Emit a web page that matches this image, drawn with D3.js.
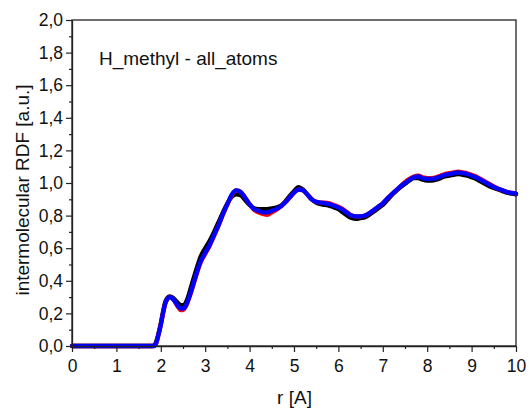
<!DOCTYPE html>
<html><head><meta charset="utf-8">
<script src="https://cdn.jsdelivr.net/npm/d3@7"></script>
<style>body{margin:0;background:#fff;} svg{display:block;} text{font-family:"Liberation Sans",Arial,sans-serif;fill:#111;}</style>
</head><body>
<svg id="c" width="529" height="410"></svg>
<script>
const xTicks = [0,1,2,3,4,5,6,7,8,9,10];
const yTicks = [0,0.2,0.4,0.6,0.8,1.0,1.2,1.4,1.6,1.8,2.0];
const yTickLabels = ["0,0","0,2","0,4","0,6","0,8","1,0","1,2","1,4","1,6","1,8","2,0"];
const title = "H_methyl - all_atoms";
const xLabel = "r [A]";
const yLabel = "intermolecular RDF [a.u.]";

const r = [0,1.8,1.85,1.9,1.95,2.0,2.05,2.1,2.15,2.2,2.25,2.3,2.35,2.4,2.45,2.5,2.55,2.6,2.7,2.8,2.9,3.0,3.1,3.2,3.3,3.4,3.5,3.6,3.7,3.8,3.9,4.0,4.1,4.2,4.3,4.4,4.5,4.6,4.7,4.8,4.9,5.0,5.1,5.2,5.3,5.4,5.5,5.6,5.7,5.8,5.9,6.0,6.1,6.2,6.3,6.4,6.5,6.6,6.7,6.8,6.9,7.0,7.1,7.2,7.3,7.4,7.5,7.6,7.7,7.8,7.9,8.0,8.1,8.2,8.3,8.4,8.5,8.6,8.7,8.8,8.9,9.0,9.1,9.2,9.3,9.4,9.5,9.6,9.7,9.8,9.9,10.0];

const gBlack = [0,0,0.005,0.03,0.08,0.14,0.21,0.27,0.295,0.305,0.3,0.29,0.275,0.26,0.25,0.25,0.26,0.29,0.38,0.47,0.55,0.6,0.645,0.7,0.76,0.82,0.875,0.915,0.93,0.925,0.895,0.865,0.845,0.84,0.84,0.84,0.845,0.85,0.86,0.885,0.92,0.95,0.975,0.96,0.93,0.9,0.88,0.87,0.865,0.86,0.85,0.84,0.82,0.8,0.785,0.78,0.785,0.79,0.805,0.825,0.845,0.865,0.895,0.925,0.95,0.975,0.995,1.015,1.03,1.03,1.02,1.015,1.015,1.02,1.03,1.04,1.045,1.05,1.055,1.05,1.045,1.035,1.025,1.01,0.995,0.98,0.97,0.96,0.95,0.94,0.935,0.93];
const gRed = [0,0,0,0.02,0.07,0.13,0.2,0.26,0.29,0.3,0.295,0.28,0.255,0.235,0.22,0.22,0.235,0.265,0.345,0.435,0.515,0.565,0.615,0.675,0.74,0.805,0.87,0.925,0.955,0.945,0.91,0.87,0.835,0.82,0.81,0.805,0.82,0.835,0.855,0.88,0.91,0.94,0.96,0.955,0.93,0.9,0.885,0.88,0.88,0.875,0.865,0.855,0.84,0.82,0.8,0.795,0.795,0.8,0.815,0.835,0.855,0.875,0.905,0.93,0.955,0.98,1.005,1.025,1.04,1.045,1.035,1.03,1.03,1.035,1.045,1.055,1.06,1.065,1.07,1.065,1.06,1.05,1.04,1.025,1.01,0.995,0.98,0.965,0.955,0.945,0.94,0.935];
const gBlue = [0,0,0,0.02,0.07,0.13,0.2,0.26,0.29,0.3,0.295,0.28,0.26,0.24,0.23,0.23,0.24,0.27,0.35,0.44,0.52,0.57,0.62,0.68,0.74,0.81,0.87,0.93,0.955,0.945,0.91,0.87,0.84,0.83,0.82,0.82,0.83,0.84,0.855,0.88,0.91,0.94,0.96,0.955,0.93,0.9,0.885,0.88,0.875,0.87,0.86,0.85,0.835,0.815,0.8,0.795,0.795,0.8,0.815,0.835,0.855,0.875,0.905,0.93,0.955,0.98,1.0,1.02,1.035,1.04,1.03,1.025,1.025,1.03,1.04,1.05,1.055,1.06,1.065,1.06,1.055,1.045,1.035,1.02,1.005,0.99,0.975,0.965,0.955,0.945,0.94,0.935];

const seriesColors = ["#000000","#ff0000","#0000ff"];
const series = [gBlack, gRed, gBlue];

const m = {l:72, r:516, t:20, b:346};
const svg = d3.select("#c");
const x = d3.scaleLinear().domain([0,10]).range([m.l, m.r]);
const y = d3.scaleLinear().domain([0,2]).range([m.b, m.t]);

// frame
svg.append("rect").attr("x", m.l).attr("y", m.t).attr("width", m.r-m.l).attr("height", m.b-m.t)
  .attr("fill","none").attr("stroke","#222").attr("stroke-width",1.3);

const line = d3.line().x((d,i)=>x(r[i])).y(d=>y(d)).curve(d3.curveMonotoneX);
const plot = svg.append("g");
series.forEach((s,k)=>{
  plot.append("path").datum(s).attr("d", line).attr("fill","none")
    .attr("stroke", seriesColors[k]).attr("stroke-width",4.3).attr("stroke-linejoin","round").attr("stroke-linecap","round");
});

const tickFont = 17.5;
// x axis
const xMinor = d3.range(0, 10.01, 0.5).filter(v => Math.abs(v - Math.round(v)) > 0.01);
const xa = svg.append("g").attr("transform",`translate(0,${m.b})`)
  .call(d3.axisBottom(x).tickValues(xTicks).tickFormat(d3.format("d")).tickSizeInner(6).tickSizeOuter(0).tickPadding(8));
xa.select(".domain").attr("stroke","#222").attr("stroke-width",1.3);
xa.selectAll(".tick line").attr("stroke","#222").attr("stroke-width",1.2);
xa.selectAll(".tick text").attr("font-size",tickFont).attr("font-family","Liberation Sans, Arial, sans-serif").attr("fill","#111");
svg.append("g").attr("transform",`translate(0,${m.b})`)
  .call(d3.axisBottom(x).tickValues(xMinor).tickFormat("").tickSizeInner(3).tickSizeOuter(0))
  .call(g=>g.select(".domain").remove())
  .selectAll(".tick line").attr("stroke","#222").attr("stroke-width",1.2);

// y axis
const yMinor = d3.range(0.1, 2.0, 0.2);
const ya = svg.append("g").attr("transform",`translate(${m.l},0)`)
  .call(d3.axisLeft(y).tickValues(yTicks).tickFormat((d,i)=>yTickLabels[i]).tickSizeInner(6).tickSizeOuter(0).tickPadding(3));
ya.select(".domain").attr("stroke","#222").attr("stroke-width",1.3);
ya.selectAll(".tick line").attr("stroke","#222").attr("stroke-width",1.2);
ya.selectAll(".tick text").attr("font-size",tickFont).attr("font-family","Liberation Sans, Arial, sans-serif").attr("fill","#111");
svg.append("g").attr("transform",`translate(${m.l},0)`)
  .call(d3.axisLeft(y).tickValues(yMinor).tickFormat("").tickSizeInner(3).tickSizeOuter(0))
  .call(g=>g.select(".domain").remove())
  .selectAll(".tick line").attr("stroke","#222").attr("stroke-width",1.2);

// labels
svg.append("text").attr("x", 294.5).attr("y", 404).attr("text-anchor","middle").attr("font-size",19).text(xLabel);
svg.append("text").attr("transform",`translate(29,190) rotate(-90)`).attr("text-anchor","middle").attr("font-size",19).text(yLabel);
svg.append("text").attr("x", 99).attr("y", 65).attr("font-size",19).text(title);
</script>
</body></html>
